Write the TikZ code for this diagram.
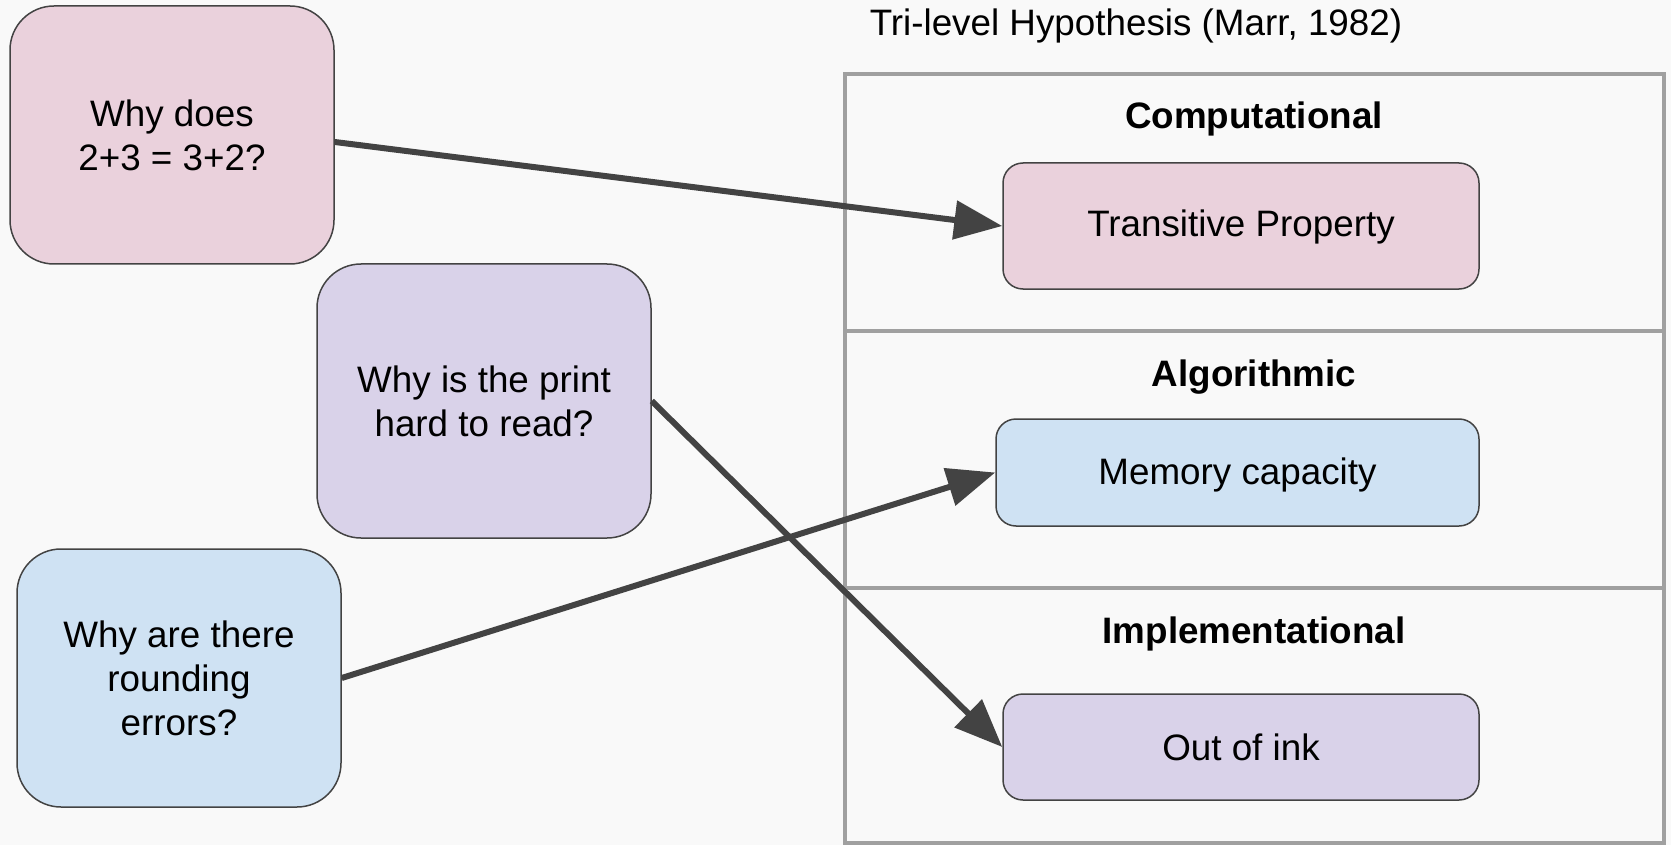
\documentclass[tikz,border=0pt]{standalone}
\usepackage{fontspec}
\setmainfont{Liberation Sans}
\usetikzlibrary{arrows.meta}
\definecolor{bgc}{HTML}{F9F9F9}
\definecolor{pinkf}{HTML}{EAD1DC}
\definecolor{purpf}{HTML}{D9D2E9}
\definecolor{bluef}{HTML}{CFE2F3}
\definecolor{edgec}{HTML}{434343}
\definecolor{framec}{HTML}{A0A0A0}
\tikzset{
  qbox/.style={draw=edgec, line width=1.5pt, rounded corners=44pt, align=center, inner sep=0pt},
  abox/.style={draw=edgec, line width=1.5pt, rounded corners=20pt, align=center, inner sep=0pt},
  lvl/.style={font=\fontsize{36.8}{44}\selectfont\bfseries, inner sep=0pt},
  conn/.style={draw=edgec, line width=6pt, -{Triangle[length=48pt,width=38pt]}},
  framebox/.style={draw=framec, line width=4pt}
}
\begin{document}
\begin{tikzpicture}[x=1pt,y=-1pt,font=\fontsize{36.8}{44}\selectfont]
\fill[bgc] (0,0) rectangle (1671,845);
\useasboundingbox (0,0) rectangle (1671,845);
% frame
\draw[framebox] (845,74) rectangle (1664,843);
\draw[framebox] (845,331) -- (1664,331);
\draw[framebox] (845,588) -- (1664,588);
\node[inner sep=0pt] (title) at (1136,26) {Tri-level Hypothesis (Marr, 1982)};
\node[lvl] (comp) at (1254,119) {Computational};
\node[lvl] (algo) at (1254,377) {Algorithmic};
\node[lvl] (impl) at (1254,634) {Implementational};
% question boxes
\node[qbox, fill=pinkf, minimum width=324pt, minimum height=258pt] (q1) at (172,135) {Why does\\2+3 = 3+2?};
\node[qbox, fill=purpf, minimum width=334pt, minimum height=274pt] (q2) at (484,401) {Why is the print\\hard to read?};
\node[qbox, fill=bluef, minimum width=324pt, minimum height=258pt] (q3) at (179,678) {Why are there\\rounding\\errors?};
% answer boxes
\node[abox, fill=pinkf, minimum width=476pt, minimum height=126pt, text depth=6pt] (a1) at (1241,226) {Transitive Property};
\node[abox, fill=bluef, minimum width=483pt, minimum height=107pt, text depth=3pt] (a2) at (1237.5,472.5) {Memory capacity};
\node[abox, fill=purpf, minimum width=476pt, minimum height=106pt] (a3) at (1241,747) {Out of ink};
% connectors
\draw[conn] ([yshift=-7pt]q1.east) -- (a1.west);
\draw[conn] (q2.east) -- (a3.west);
\draw[conn] (q3.east) -- (a2.west);
\end{tikzpicture}
\end{document}
